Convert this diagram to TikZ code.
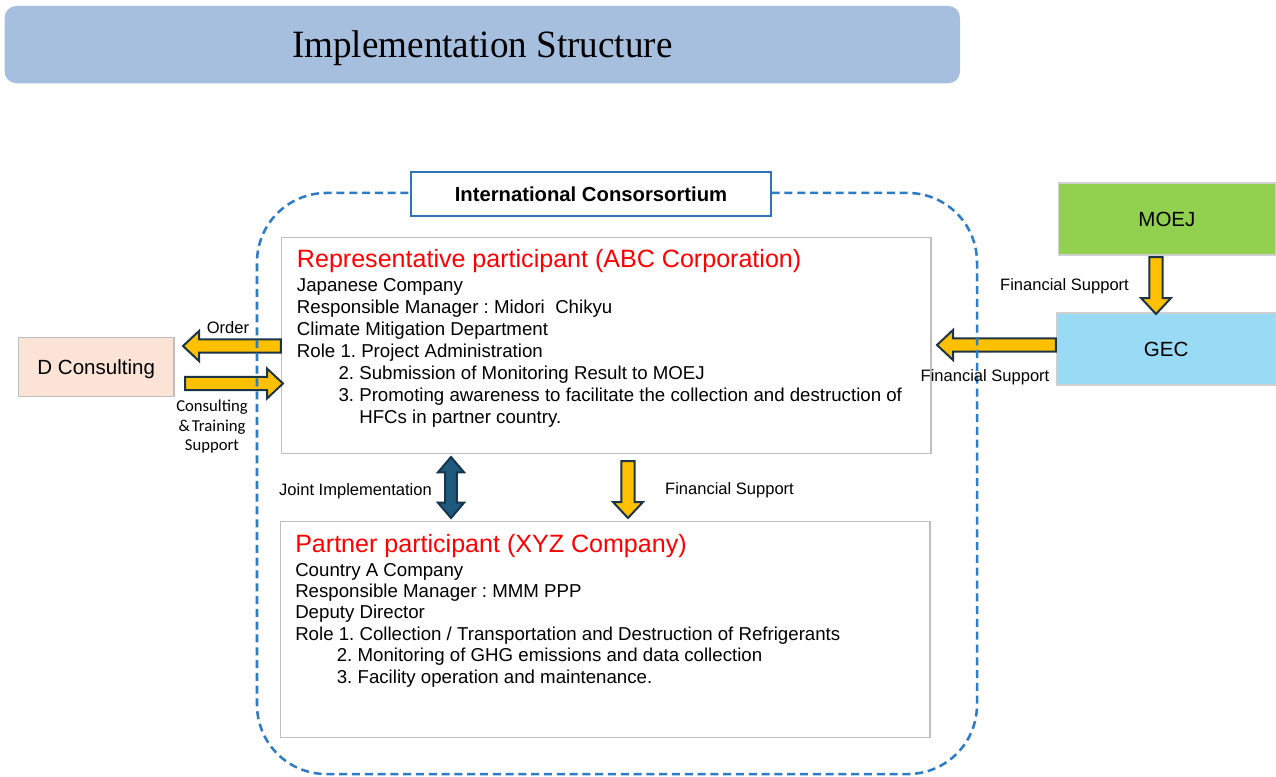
\documentclass[tikz,border=0pt]{standalone}
\usepackage{fontspec}
\setmainfont{Liberation Sans}
\newfontfamily\titlefont[FakeStretch=0.96]{Liberation Serif}
\newfontfamily\notefont{Carlito}
\usetikzlibrary{calc}
\frenchspacing

\definecolor{bannerblue}{HTML}{A7BFDE}
\definecolor{dashblue}{HTML}{2E7BC6}
\definecolor{edgeblue}{HTML}{2E75B6}
\definecolor{framegray}{HTML}{BFBFBF}
\definecolor{lightframe}{HTML}{D0D0D0}
\definecolor{peach}{HTML}{FBE3D6}
\definecolor{moejgreen}{HTML}{92D050}
\definecolor{gecblue}{HTML}{99DAF5}
\definecolor{arrowgold}{HTML}{FFC000}
\definecolor{arrowedge}{HTML}{1B3446}
\definecolor{jointblue}{HTML}{1F5A7E}
\definecolor{jointedge}{HTML}{14354B}

% block arrow from tail #2 to tip #3
\newcommand\goldarrow[3][]{%
  \coordinate (ga-base) at ($(#3)!12pt!(#2)$);
  \draw[fatarrow,#1] ($(#2)!4.9pt!90:(#3)$) -- ($(ga-base)!4.9pt!90:(#3)$)
    -- ($(ga-base)!11.25pt!90:(#3)$) -- (#3)
    -- ($(ga-base)!11.25pt!-90:(#3)$) -- ($(ga-base)!4.9pt!-90:(#3)$)
    -- ($(#2)!4.9pt!-90:(#3)$) -- cycle;}

% two-headed block arrow between #2 and #3
\newcommand\twowayarrow[3][]{%
  \coordinate (tw-a) at ($(#2)!11.5pt!(#3)$);
  \coordinate (tw-b) at ($(#3)!11.5pt!(#2)$);
  \draw[fatarrow,#1] (#2) -- ($(tw-a)!9.8pt!90:(#3)$) -- ($(tw-a)!4.4pt!90:(#3)$)
    -- ($(tw-b)!4.4pt!90:(#3)$) -- ($(tw-b)!9.8pt!90:(#3)$) -- (#3)
    -- ($(tw-b)!9.8pt!-90:(#3)$) -- ($(tw-b)!4.4pt!-90:(#3)$)
    -- ($(tw-a)!4.4pt!-90:(#3)$) -- ($(tw-a)!9.8pt!-90:(#3)$) -- cycle;}

\tikzset{
  banner/.style={fill=bannerblue, draw=none, rounded corners=9pt, inner sep=0pt,
    font=\titlefont\fontsize{29}{34}\selectfont, text height=19.2pt, text depth=0pt},
  container/.style={draw=dashblue, line width=1.9pt, dash pattern=on 6pt off 3.6pt,
    rounded corners=52pt, inner sep=0pt},
  headerbox/.style={draw=edgeblue, fill=white, line width=1pt, inner sep=0pt,
    font=\bfseries\fontsize{15.2}{18}\selectfont, text height=10.9pt, text depth=0pt},
  partbox/.style={draw=framegray, fill=white, line width=1.1pt, inner sep=0pt},
  sidebox/.style={draw=framegray, line width=1.1pt, inner sep=0pt,
    font=\fontsize{15.4}{18}\selectfont, text height=11pt, text depth=0pt},
  partytitle/.style={anchor=base west, inner sep=0pt, text=red,
    font=\fontsize{18.8}{22}\selectfont},
  bodytext/.style={anchor=base west, inner sep=0pt, font=\fontsize{14}{16.4}\selectfont},
  flowlabel/.style={anchor=base, inner sep=0pt, font=\fontsize{12.4}{14}\selectfont},
  fatarrow/.style={fill=arrowgold, draw=arrowedge, line width=1.5pt, line join=miter},
  jointarrow/.style={fill=jointblue, draw=jointedge},
}

\begin{document}
\begin{tikzpicture}[x=0.75pt, y=-0.75pt]
\useasboundingbox (0,0) rectangle (1276,776);

% title banner
\node[banner, minimum width=716.6pt, minimum height=58.1pt] (title) at (482.3,44.6)
  {Implementation Structure};

% participants and outside parties
\node[partbox, minimum width=487.1pt, minimum height=162.2pt] (rep) at (606.3,345.4) {};
\node[partbox, minimum width=487.1pt, minimum height=162pt] (partner) at (605.3,629.7) {};
\node[sidebox, fill=peach, minimum width=116.8pt, minimum height=44.25pt] (dcons) at (96.2,367.2) {D Consulting};
\node[sidebox, draw=lightframe, fill=moejgreen, minimum width=162.9pt, minimum height=54.2pt] (moej) at (1166.9,218.9) {MOEJ};
\node[sidebox, draw=lightframe, fill=gecblue, minimum width=164.1pt, minimum height=54.2pt] (gec) at (1166.1,348.9) {GEC};

% arrow end points
\coordinate (orderTail) at (rep.west |- 0,346);
\coordinate (orderTip) at (183,346);
\coordinate (consTail) at (185,383.5);
\coordinate (consTip) at (283,383.5);
\coordinate (gecTail) at (gec.west |- 0,345);
\coordinate (gecTip) at (937,345);
\coordinate (moejTail) at (1156,257);
\coordinate (moejTip) at (1156,314);
\coordinate (fundTail) at (628,461);
\coordinate (fundTip) at (628,518);
\coordinate (jointTop) at (451,457);
\coordinate (jointBottom) at (451,518);

\goldarrow{orderTail}{orderTip}
\goldarrow{consTail}{consTip}
\goldarrow{gecTail}{gecTip}
\goldarrow{moejTail}{moejTip}
\goldarrow{fundTail}{fundTip}
\twowayarrow[jointarrow]{jointTop}{jointBottom}

% consortium boundary and its header
\node[container, minimum width=540pt, minimum height=435.8pt] (consortium) at (617,483.5) {};
\node[headerbox, minimum width=270pt, minimum height=33pt] (header) at (591,194)
  {International Consorsortium};

% representative participant
\node[partytitle] (reptitle) at (296.7,267.7) {Representative participant (ABC Corporation)};
\node[bodytext] (repbody) at (296.7,291.7) {\vtop{\baselineskip=16.45pt
  \hbox{Japanese Company}
  \hbox{Responsible Manager : Midori\ \ Chikyu}
  \hbox{Climate Mitigation Department}
  \hbox{Role 1. Project Administration}
  \hbox{\kern31.2pt 2. Submission of Monitoring Result to MOEJ}
  \hbox{\kern31.2pt 3. Promoting awareness to facilitate the collection and destruction of}
  \hbox{\kern31.2pt \phantom{3. }HFCs in partner country.}}};

% partner participant
\node[partytitle] (partnertitle) at (295,552.3) {Partner participant (XYZ Company)};
\node[bodytext] (partnerbody) at (295,576) {\vtop{\baselineskip=16.1pt
  \hbox{Country A Company}
  \hbox{Responsible Manager : MMM PPP}
  \hbox{Deputy Director}
  \hbox{Role 1. Collection / Transportation and Destruction of Refrigerants}
  \hbox{\kern31.2pt 2. Monitoring of GHG emissions and data collection}
  \hbox{\kern31.2pt 3. Facility operation and maintenance.}}};

% flow labels
\node[flowlabel] (orderlabel) at (228,333) {Order};
\node[anchor=base, inner sep=0pt, font=\notefont\fontsize{12.5}{14.6}\selectfont] (conslabel) at (212,411.7)
  {\vtop{\baselineskip=14.6pt
  \hbox to 60pt{\hfil Consulting\hfil}
  \hbox to 60pt{\hfil \&\kern1.5pt Training\hfil}
  \hbox to 60pt{\hfil Support\hfil}}};
\node[flowlabel] (moejlabel) at (1064.5,290) {Financial Support};
\node[flowlabel] (geclabel) at (985,381) {Financial Support};
\node[flowlabel] (fundlabel) at (729.5,494) {Financial Support};
\node[flowlabel] (jointlabel) at (355.5,495) {Joint Implementation};
\end{tikzpicture}
\end{document}
